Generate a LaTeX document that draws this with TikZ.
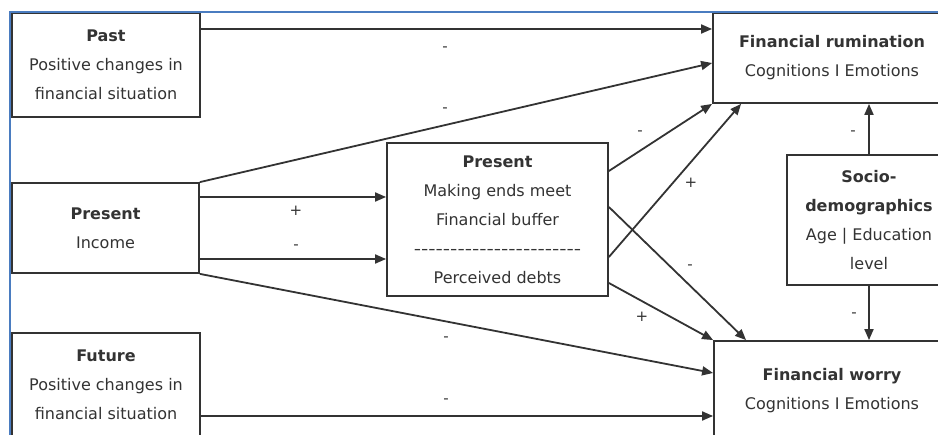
\documentclass[tikz,border=0pt]{standalone}
\usepackage{fontspec}
\setmainfont{DejaVu Sans}
\usepackage{graphicx}
\usepackage{tikz}
\usetikzlibrary{
  positioning,
  arrows.meta,
  calc
}
\definecolor{ink}{HTML}{333333}
\definecolor{frameblue}{HTML}{4A7CC0}

\begin{document}
\begin{tikzpicture}[
  x=1pt, y=-1pt,
  vbox/.style={draw=ink, line width=1.8pt, fill=white, align=center, text=ink,
               inner sep=0pt, font=\fontsize{16}{29}\selectfont},
  arr/.style={-{Triangle[length=11pt, width=9pt]}, line width=1.8pt, draw=ink},
  sign/.style={inner sep=0pt, text=ink, font=\fontsize{15}{18}\selectfont},
]
  \clip (0,0) rectangle (938,435);

  % Predictors (LEFT)
  \node[vbox, minimum width=188pt, minimum height=104pt] (past) at (106,65)
    {\textbf{Past}\\Positive changes in\\financial situation};
  \node[vbox, minimum width=187pt, minimum height=90pt] (income) at (105.5,228)
    {\textbf{Present}\\Income};
  \node[vbox, minimum width=188pt, minimum height=104pt] (future) at (106,385)
    {\textbf{Future}\\Positive changes in\\financial situation};

  % Mediator (MIDDLE)
  \node[vbox, minimum width=221pt, minimum height=153pt] (mid) at (497.5,219.5)
    {\textbf{Present}\\Making ends meet\\Financial buffer\\
     {\addfontfeatures{Ligatures=TeXOff}\scalebox{1.26}[1]{-----------------------}}\\
     Perceived debts};

  % Outcomes and controls (RIGHT)
  \node[vbox, minimum width=238pt, minimum height=90pt] (rum) at (832,58)
    {\textbf{Financial rumination}\\Cognitions I Emotions};
  \node[vbox, minimum width=236pt, minimum height=100pt] (worry) at (832,391)
    {\textbf{Financial worry}\\Cognitions I Emotions};
  \node[vbox, minimum width=164pt, minimum height=130pt] (socio) at (869,220)
    {\textbf{Socio-}\\\textbf{demographics}\\Age | Education\\level};

  \draw[arr] ([yshift=36pt]past.east) -- ([yshift=36pt]past.east -| rum.west);
  \draw[arr] (income.north east) -- ([yshift=-5pt]rum.west);
  \draw[arr] ([yshift=31pt]income.east) -- ([yshift=31pt]income.east -| mid.west);
  \draw[arr] ([yshift=-31pt]income.east) -- ([yshift=-31pt]income.east -| mid.west);
  \draw[arr] (income.south east) -- ([yshift=18pt]worry.west);
  \draw[arr] ([yshift=-31pt]future.east) -- ([yshift=-31pt]future.east -| worry.west);

  \draw[arr] ([yshift=48.5pt]mid.east) -- (rum.south west);
  \draw[arr] ([yshift=-37.5pt]mid.east) -- ([xshift=29pt]rum.south west);
  \draw[arr] ([yshift=12.5pt]mid.east) -- ([xshift=33pt]worry.north west);
  \draw[arr] ([yshift=-63.5pt]mid.east) -- (worry.north west);

  \draw[arr] (socio.north) -- (socio.north |- rum.south);
  \draw[arr] (socio.south) -- (socio.south |- worry.north);

  % Signs of the paths
  \node[sign] (s-past)    at (445,49)  {-};
  \node[sign] (s-incrum)  at (445,110) {-};
  \node[sign] (s-incup)   at (296,211) {+};
  \node[sign] (s-inclow)  at (296,247) {-};
  \node[sign] (s-incwor)  at (446,339) {-};
  \node[sign] (s-future)  at (446,401) {-};
  \node[sign] (s-midrum)  at (640,133) {-};
  \node[sign] (s-debrum)  at (691,183) {+};
  \node[sign] (s-midwor)  at (690,267) {-};
  \node[sign] (s-debwor)  at (642,317) {+};
  \node[sign] (s-socrum)  at (853,133) {-};
  \node[sign] (s-socwor)  at (854,315) {-};

  % Page frame
  \draw[frameblue, line width=1.5pt] (10,435) -- (10,12) -- (938,12);
\end{tikzpicture}
\end{document}
